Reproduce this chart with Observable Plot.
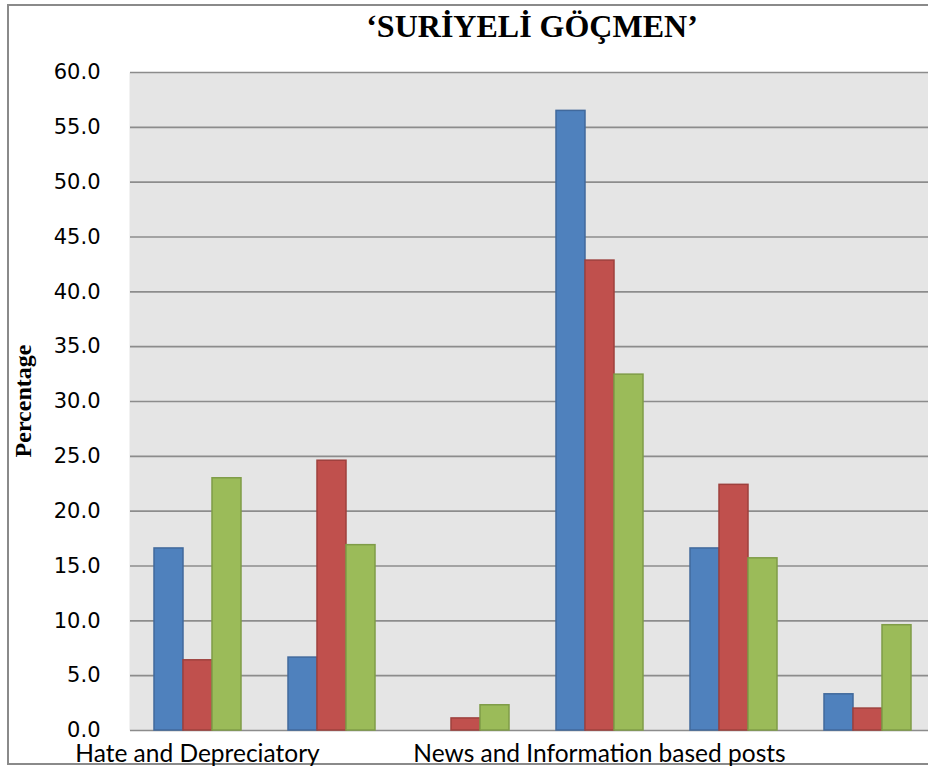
<!DOCTYPE html>
<html>
<head>
<meta charset="utf-8">
<script src="https://cdn.jsdelivr.net/npm/d3@7"></script>
<script src="https://cdn.jsdelivr.net/npm/@observablehq/plot@0.6"></script>
<style>
  html, body { margin: 0; padding: 0; overflow: hidden; background: #fff; width: 928px; height: 769px; }
  #border { position: absolute; left: 7px; top: 4px; width: 1000px; height: 757px; border: 2px solid #8a8a8a; box-sizing: content-box; }
  #title { position: absolute; left: 0; width: 1064px; top: 8px; text-align: center; font-family: "Liberation Serif", serif; font-weight: bold; font-size: 32px; color: #000; }
  #ylabel { position: absolute; left: 23px; top: 401px; transform: translate(-50%, -50%) rotate(-90deg); font-family: "Liberation Serif", serif; font-weight: bold; font-size: 24px; white-space: nowrap; }
  #chart { position: absolute; left: 0; top: 0; width: 940px; }
  #chart svg { max-width: none !important; }
</style>
</head>
<body>
<div id="border"></div>
<div id="title">‘SURİYELİ GÖÇMEN’</div>
<div id="ylabel">Percentage</div>
<div id="chart"></div>
<script>
const categories = ["Hate and Depreciatory", "Category 2", "Category 3", "News and Information based posts", "Category 5", "Category 6"];
const shownLabels = ["Hate and Depreciatory", "News and Information based posts"];
const series = ["Series 1", "Series 2", "Series 3"];
const series1 = [16.6, 6.65, 0.0, 56.5, 16.6, 3.3];
const series2 = [6.4, 24.6, 1.1, 42.85, 22.4, 2.0];
const series3 = [23.0, 16.9, 2.3, 32.45, 15.7, 9.6];
const yTicks = [0, 5, 10, 15, 20, 25, 30, 35, 40, 45, 50, 55, 60];
const fills = ["#4f81bd", "#c0504d", "#9bbb59"];
const strokes = ["#41699c", "#9e403d", "#7f9c47"];

const seriesValues = [series1, series2, series3];
const data = [];
categories.forEach((c, i) => {
  series.forEach((s, j) => data.push({category: c, series: s, value: seriesValues[j][i]}));
});

const chart = Plot.plot({
  width: 940,
  height: 769,
  marginLeft: 128,
  marginRight: 4,
  marginTop: 72,
  marginBottom: 39,
  style: {overflow: "visible", background: "transparent", maxWidth: "none"},
  fx: {domain: categories, padding: 0, label: null},
  x: {domain: series, paddingInner: 0, paddingOuter: 0.743, axis: null},
  y: {domain: [0, 60], label: null},
  color: {domain: series, range: fills},
  marks: [
    Plot.frame({fill: "#e5e5e5", stroke: null, insetLeft: -1, insetRight: -1}),
    Plot.ruleY(yTicks, {stroke: "#8c8c8c", strokeWidth: 1.6}),
    Plot.barY(data.filter(d => d.value > 0), {
      fx: "category", x: "series", y: "value",
      fill: "series",
      stroke: d => strokes[series.indexOf(d.series)],
      strokeWidth: 1.5
    }),
    Plot.axisY({
      ticks: yTicks, tickSize: 0, tickPadding: 30, line: true,
      stroke: "#8c8c8c", strokeWidth: 2, fill: "#000",
      tickFormat: d => d.toFixed(1),
      fontSize: 21, fontFamily: "DejaVu Sans", label: null
    }),
    Plot.axisFx({
      anchor: "bottom", tickSize: 0, tickPadding: 14,
      tickFormat: d => shownLabels.includes(d) ? d : "",
      fontSize: 24.5, fontFamily: "Lato", fill: "#000", label: null
    })
  ]
});
document.getElementById("chart").appendChild(chart);
</script>
</body>
</html>
